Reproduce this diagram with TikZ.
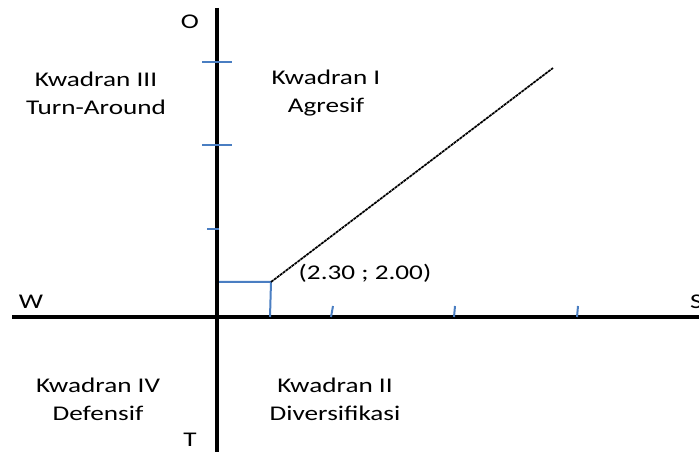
\documentclass[tikz,border=0pt]{standalone}
\usepackage{fontspec}
\setmainfont{Carlito}[FakeStretch=1.3]
\definecolor{offblue}{HTML}{4A7EC2}
\begin{document}
\begin{tikzpicture}[x=1bp,y=-1bp,
  axis/.style={line width=3.6bp,black},
  tickmark/.style={line width=2bp,offblue},
  guide/.style={line width=2bp,offblue},
  trend/.style={line width=1.7bp,black,dash pattern=on 3bp off 0.7bp},
  lbl/.style={inner sep=0pt,font=\fontsize{21}{26}\selectfont},
  quad/.style={lbl,align=center,font=\fontsize{21}{28}\selectfont}]
\useasboundingbox (0,0) rectangle (699,452);
% axes
\coordinate (vtop) at (217,8);
\coordinate (vbot) at (217,452);
\coordinate (hleft) at (12,317);
\coordinate (hright) at (699,317);
\draw[axis] (vtop) -- (vbot);
\draw[axis] (hleft) -- (hright);
% ticks on vertical axis
\coordinate (t1a) at (202,62); \coordinate (t1b) at (232,62);
\coordinate (t2a) at (202,145); \coordinate (t2b) at (232,145);
\coordinate (t3a) at (207,229); \coordinate (t3b) at (219,229);
\draw[tickmark] (t1a) -- (t1b);
\draw[tickmark] (t2a) -- (t2b);
\draw[tickmark] (t3a) -- (t3b);
% ticks on horizontal axis
\coordinate (h1a) at (333,306); \coordinate (h1b) at (331,317);
\coordinate (h2a) at (455,306); \coordinate (h2b) at (454,317);
\coordinate (h3a) at (578,306); \coordinate (h3b) at (577,317);
\draw[tickmark] (h1a) -- (h1b);
\draw[tickmark] (h2a) -- (h2b);
\draw[tickmark] (h3a) -- (h3b);
% point guides
\coordinate (gy) at (219,282);
\coordinate (pt) at (271,282);
\coordinate (gx) at (270,317);
\draw[guide] (gy) -- (pt) -- (gx);
% trend line
\coordinate (end) at (553,68);
\draw[trend] (pt) -- (end);
% labels
\node[lbl] (lo) at (190,22) {O};
\node[lbl] (lt) at (190,440) {T};
\node[lbl] (lw) at (31,302) {W};
\node[lbl,anchor=west] (ls) at (690,302) {S};
\node[lbl] (lp) at (365,273) {(2.30 ; 2.00)};
\node[quad] (q3) at (96,93) {Kwadran III\\Turn-Around};
\node[quad] (q1) at (326,93) {Kwadran I\\Agresif};
\node[quad] (q4) at (98,399) {Kwadran IV\\Defensif};
\node[quad] (q2) at (335,399) {Kwadran II\\Diversifikasi};
\end{tikzpicture}
\end{document}
